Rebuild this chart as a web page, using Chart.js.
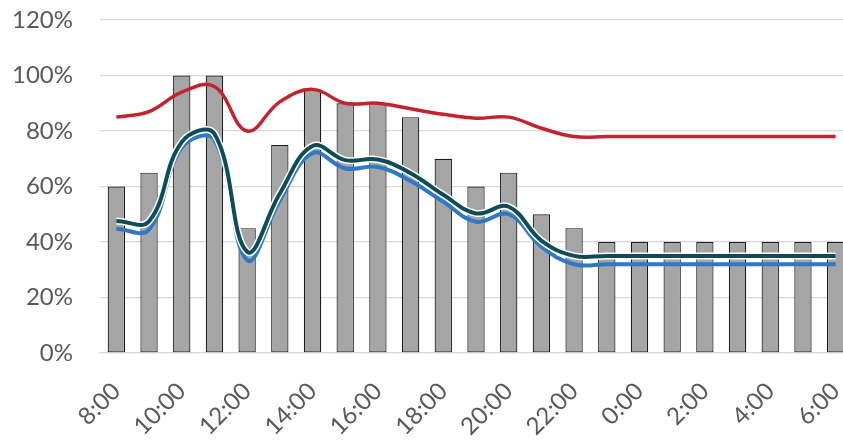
<!DOCTYPE html>
<html>
<head>
<meta charset="utf-8">
<script src="https://cdn.jsdelivr.net/npm/chart.js@4/dist/chart.umd.min.js"></script>
<style>
  html, body { margin: 0; padding: 0; background: #fff; overflow: hidden; }
  #wrap { width: 852px; height: 442px; }
</style>
</head>
<body>
<div id="wrap"><canvas id="myChart"></canvas></div>
<script>
// hours from 8:00 to 6:00 next day
const hours = ['8:00','9:00','10:00','11:00','12:00','13:00','14:00','15:00','16:00','17:00','18:00','19:00',
  '20:00','21:00','22:00','23:00','0:00','1:00','2:00','3:00','4:00','5:00','6:00']
const barValues = [60,65,100,100,45,75,95,90,90,85,70,60,65,50,45,40,40,40,40,40,40,40,40]
const redValues = [85,87,94,96,80,90.5,95,90,90,88,86,84.6,85,81,78,78,78,78,78,78,78,78,78]
const tealValues = [47.6,47.5,76,79,36.5,57.5,74.6,69.5,69.7,64.8,57,50.3,52.7,40.5,35,35,35,35,35,35,35,35,35]
const blueValues = [44.8,44.5,74,76.8,33.5,55,72,66.5,67,62,54.5,47.3,50,38.3,32,32,32,32,32,32,32,32,32]
const yTicks = [0,20,40,60,80,100,120]

const ctx = document.getElementById('myChart').getContext('2d')

const lineStyle = (color, width) => ({
    type: 'line',
    borderColor: color,
    borderWidth: width,
    pointRadius: 0,
    tension: 0.4,
    fill: false
})

let myChart = new Chart(ctx, {
    type: 'bar',
    data: {
        labels: hours,
        datasets: [
            Object.assign(lineStyle('#c4222c', 3.5), {data: redValues, order: 1}),
            Object.assign(lineStyle('#0e4d55', 4), {data: tealValues, order: 2}),
            Object.assign(lineStyle('#ffffff', 7), {data: tealValues, order: 3}),
            Object.assign(lineStyle('#2f78c6', 4), {data: blueValues, order: 4}),
            {
                type: 'bar',
                data: barValues,
                backgroundColor: '#a5a5a5',
                borderColor: '#1a1a1a',
                borderWidth: 1.2,
                borderSkipped: false,
                categoryPercentage: 1,
                barPercentage: 0.53,
                order: 5
            }
        ]
    },
    options: {
        responsive: true,
        maintainAspectRatio: false,
        animation: false,
        layout: {padding: {left: 4, right: 0, top: 5, bottom: 0}},
        plugins: {legend: {display: false}, tooltip: {enabled: false}},
        scales: {
            x: {
                grid: {display: false},
                border: {color: '#d9d9d9', width: 1.3},
                afterFit: axis => { axis.height = 89; axis.paddingLeft = 0; axis.paddingRight = 0 },
                ticks: {
                    color: '#595959',
                    font: {family: 'Lato', size: 24},
                    maxRotation: 45,
                    minRotation: 45,
                    autoSkip: false,
                    padding: 16,
                    callback: function(v, i) { return i % 2 === 0 ? hours[i] : '' }
                }
            },
            y: {
                min: 0,
                max: 120,
                afterBuildTicks: axis => { axis.ticks = yTicks.map(v => ({value: v})) },
                afterFit: axis => { axis.width = 96; axis.paddingTop = 20; axis.paddingBottom = 0 },
                grid: {color: '#d9d9d9', lineWidth: 1.3, drawTicks: false},
                border: {display: false},
                ticks: {
                    color: '#595959',
                    font: {family: 'Lato', size: 24},
                    padding: 27,
                    callback: v => v + '%'
                }
            }
        }
    }
})
</script>
</body>
</html>
